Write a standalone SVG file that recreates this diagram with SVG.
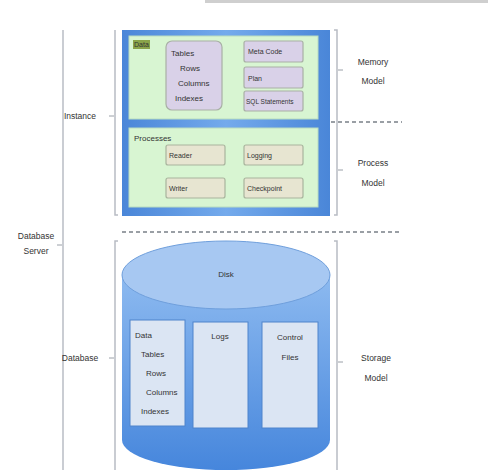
<svg xmlns="http://www.w3.org/2000/svg" width="488" height="476" viewBox="0 0 488 476">
  <style>
    text { font-family: "Liberation Sans", Arial, sans-serif; font-size: 8px; fill: #333; }
    .lbl { font-size: 8.5px; }
    .br { fill: none; stroke: #b8bcc4; stroke-width: 1.5; }
    .tick { stroke: #9aa0a8; stroke-width: 1; }
    .dash { stroke: #7a8088; stroke-width: 1.3; stroke-dasharray: 4 3; }
    .panel { fill: #d8f5d2; stroke: #b9dcc0; stroke-width: 1; }
    .lav { fill: #d9d1e8; stroke: #a9b0a6; stroke-width: 1.2; }
    .tan { fill: #e7e5d1; stroke: #a9b49d; stroke-width: 1.2; }
    .disk { fill: #dbe5f3; stroke: #4f84cc; stroke-width: 1; }
  </style>
  <defs>
    <linearGradient id="inst" x1="0" y1="0" x2="1" y2="0">
      <stop offset="0" stop-color="#4a86d8"/>
      <stop offset="0.5" stop-color="#74aaec"/>
      <stop offset="1" stop-color="#4a86d8"/>
    </linearGradient>
    <linearGradient id="body" x1="0" y1="0" x2="0" y2="1">
      <stop offset="0" stop-color="#8dbaf0"/>
      <stop offset="1" stop-color="#4686dc"/>
    </linearGradient>
  </defs>

  <!-- clipped caption band at the top edge -->
  <rect x="205" y="0" width="283" height="3" fill="#cfcfcf"/>

  <!-- brackets and separators -->
  <g id="connectors">
    <path class="br" d="M63,30 V470"/>
    <line class="tick" x1="57" y1="245" x2="62" y2="245"/>
    <path class="br" d="M115,30 V215 h3"/>
    <line class="tick" x1="109" y1="116" x2="114" y2="116"/>
    <path class="br" d="M334,30 h3 V215 h-3"/>
    <line class="tick" x1="338" y1="70" x2="343" y2="70"/>
    <line class="tick" x1="338" y1="170" x2="343" y2="170"/>
    <line class="dash" x1="331" y1="122" x2="402" y2="122"/>
    <line class="dash" x1="122" y1="232" x2="402" y2="232"/>
    <path class="br" d="M118,241 h-3 V470"/>
    <line class="tick" x1="109" y1="358" x2="114" y2="358"/>
    <path class="br" d="M334,241 h3 V470"/>
    <line class="tick" x1="338" y1="362" x2="343" y2="362"/>
  </g>

  <!-- bracket labels -->
  <g id="label-server">
    <text class="lbl" x="36" y="239" text-anchor="middle">Database</text>
    <text class="lbl" x="36" y="254" text-anchor="middle">Server</text>
  </g>
  <g id="label-instance"><text class="lbl" x="80" y="119" text-anchor="middle">Instance</text></g>
  <g id="label-database"><text class="lbl" x="80" y="361" text-anchor="middle">Database</text></g>
  <g id="label-memory">
    <text class="lbl" x="373" y="65" text-anchor="middle">Memory</text>
    <text class="lbl" x="373" y="84" text-anchor="middle">Model</text>
  </g>
  <g id="label-process">
    <text class="lbl" x="373" y="166" text-anchor="middle">Process</text>
    <text class="lbl" x="373" y="186" text-anchor="middle">Model</text>
  </g>
  <g id="label-storage">
    <text class="lbl" x="376" y="361" text-anchor="middle">Storage</text>
    <text class="lbl" x="376" y="381" text-anchor="middle">Model</text>
  </g>

  <!-- instance -->
  <g id="instance">
    <rect x="122" y="30" width="208" height="186" fill="url(#inst)"/>
    <g id="data-memory">
      <rect class="panel" x="129" y="36" width="189" height="83"/>
      <rect x="133" y="40" width="17" height="9" fill="#8aa44a"/>
      <text x="134" y="47" style="font-size:7px">Data</text>
      <g id="tables">
        <rect class="lav" x="166" y="41" width="56" height="69" rx="6"/>
        <text x="171" y="56">Tables</text>
        <text x="180" y="71">Rows</text>
        <text x="178" y="86">Columns</text>
        <text x="175" y="101">Indexes</text>
      </g>
      <g id="metacode">
        <rect class="lav" x="244" y="41" width="59" height="21" rx="2"/>
        <text x="248" y="54" style="font-size:7px">Meta Code</text>
      </g>
      <g id="plan">
        <rect class="lav" x="244" y="67" width="59" height="21" rx="2"/>
        <text x="248" y="81" style="font-size:7px">Plan</text>
      </g>
      <g id="sql">
        <rect class="lav" x="244" y="91" width="59" height="20" rx="2"/>
        <text x="246" y="104" style="font-size:6.5px">SQL Statements</text>
      </g>
    </g>
    <g id="processes">
      <rect class="panel" x="129" y="128" width="189" height="79"/>
      <text x="134" y="141">Processes</text>
      <g id="reader">
        <rect class="tan" x="166" y="145" width="59" height="20" rx="2"/>
        <text x="169" y="158" style="font-size:7px">Reader</text>
      </g>
      <g id="logging">
        <rect class="tan" x="244" y="145" width="59" height="20" rx="2"/>
        <text x="247" y="158" style="font-size:7px">Logging</text>
      </g>
      <g id="writer">
        <rect class="tan" x="166" y="178" width="59" height="20" rx="2"/>
        <text x="169" y="191" style="font-size:7px">Writer</text>
      </g>
      <g id="checkpoint">
        <rect class="tan" x="244" y="178" width="59" height="20" rx="2"/>
        <text x="247" y="191" style="font-size:7px">Checkpoint</text>
      </g>
    </g>
  </g>

  <!-- database disk -->
  <g id="disk">
    <path d="M122,275 V440 A104,30 0 0 0 330,440 V275 Z" fill="url(#body)"/>
    <ellipse cx="226" cy="275" rx="104" ry="34" fill="#a7c8f2" stroke="#6f9fdc" stroke-width="1"/>
    <text x="226" y="277" text-anchor="middle">Disk</text>
    <g id="disk-data">
      <rect class="disk" x="130" y="320" width="55" height="106"/>
      <text x="135" y="338">Data</text>
      <text x="141" y="357">Tables</text>
      <text x="146" y="376">Rows</text>
      <text x="146" y="395">Columns</text>
      <text x="141" y="414">Indexes</text>
    </g>
    <g id="disk-logs">
      <rect class="disk" x="193" y="322" width="55" height="106"/>
      <text x="220" y="339" text-anchor="middle">Logs</text>
    </g>
    <g id="disk-control">
      <rect class="disk" x="262" y="322" width="56" height="106"/>
      <text x="290" y="340" text-anchor="middle">Control</text>
      <text x="290" y="360" text-anchor="middle">Files</text>
    </g>
  </g>
</svg>
